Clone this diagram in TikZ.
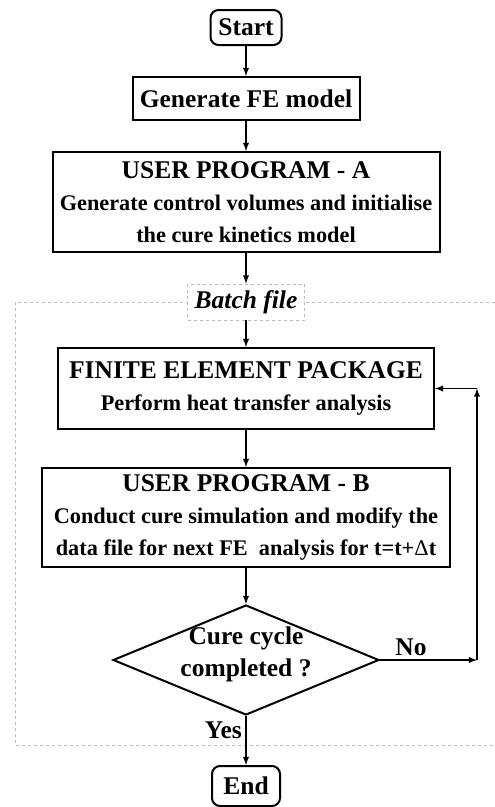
\documentclass[tikz,border=0pt]{standalone}
\usepackage{fontspec}
\setmainfont{Liberation Serif}
\usepackage{tikz}
\usetikzlibrary{arrows,shapes.geometric}
\newcommand{\headfont}{\fontsize{25.5}{32}\selectfont}

\begin{document}
\begin{tikzpicture}[x=1pt, y=1pt,
  every node/.style={font=\bfseries\fontsize{22.3}{32}\selectfont},
  hd/.style={font=\bfseries\headfont},
  box/.style={draw, line width=2pt, align=center, inner sep=0pt},
  term/.style={box, hd, rounded corners=8pt},
  frame/.style={draw=gray!55, dashed, line width=0.9pt},
  arr/.style={-latex, line width=1.8pt}]
\useasboundingbox (0,0) rectangle (495,-807);

\draw[frame] (495,-302) -- (15,-302) -- (15,-745) -- (495,-745);

\node[term, minimum width=71pt, minimum height=35pt](ST) at (246,-27.5){Start};
\node[box, hd, below of=ST, node distance=71pt, minimum width=227pt, minimum height=43pt](GEN){Generate FE model};
\node[box, below of=GEN, node distance=103.5pt, minimum width=387pt, minimum height=100pt](UPA){
	{\headfont USER PROGRAM - A}\\
	Generate control volumes and initialise\\
	the cure kinetics model};
\node[frame, fill=white, inner sep=0pt, below of=UPA, node distance=100pt, minimum width=117pt, minimum height=36pt, font=\bfseries\itshape\headfont](BAT){Batch file};
\node[box, below of=BAT, node distance=86.5pt, minimum width=376pt, minimum height=81pt](FEP){
	{\headfont FINITE ELEMENT PACKAGE}\\
	Perform heat transfer analysis};
\node[box, below of=FEP, node distance=129pt, minimum width=408pt, minimum height=99pt](UPB){
	{\headfont USER PROGRAM - B}\\
	Conduct cure simulation and modify the\\
	data file for next FE~ analysis for t=t+{\mdseries Δ}t};
\node[draw, diamond, line width=2pt, inner sep=0pt, below of=UPB, node distance=142.5pt, minimum width=266pt, minimum height=110pt](DEC){};
\node[hd, align=center, yshift=6pt](Q) at (DEC){Cure cycle\\completed ?};
\node[term, below of=DEC, node distance=126pt, minimum width=68pt, minimum height=40pt](END){End};

\draw[arr] (ST) -- (GEN);
\draw[arr] (GEN) -- (UPA);
\draw[arr] (UPA) -- (BAT);
\draw[arr] (BAT) -- (FEP);
\draw[arr] (FEP) -- (UPB);
\draw[arr] (UPB) -- (DEC);
\draw[arr] (DEC) -- node[hd, pos=0.3, left]{Yes} (END);

\coordinate[right of=DEC, node distance=231pt](NOR);
\coordinate[right of=FEP, node distance=231pt](NOT);

\draw[arr] (DEC.east) -- node[hd, pos=0.32, above]{No} (NOR);
\draw[arr] (NOR) -- (NOT);
\draw[arr] (NOT) -- (FEP.east);
\end{tikzpicture}
\end{document}
